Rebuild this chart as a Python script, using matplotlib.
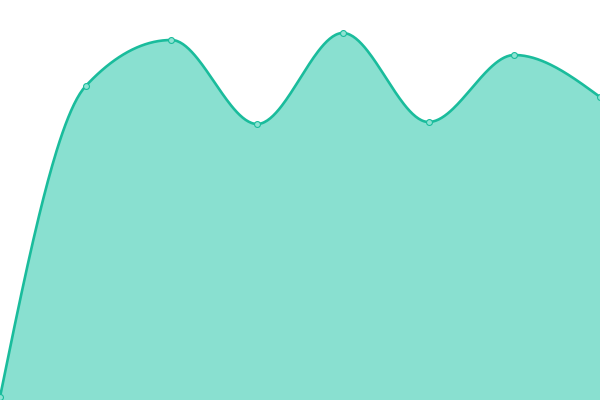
import numpy as np
import matplotlib
matplotlib.use("Agg")
import matplotlib.pyplot as plt

# values (0 = bottom edge, 400 = top edge)
categories = [0, 1, 2, 3, 4, 5, 6, 7]
values = [3, 314, 360, 276, 367, 278, 345, 303]

LINE = "#1abc9c"
FILL = "#89e0d0"


def monotone_slopes(x, y):
    # same tangents as d3.curveMonotoneX
    n = len(x)
    h = np.diff(x)
    s = np.diff(y) / h
    t = np.zeros(n)
    for i in range(1, n - 1):
        p = (s[i - 1] * h[i] + s[i] * h[i - 1]) / (h[i - 1] + h[i])
        t[i] = (np.sign(s[i - 1]) + np.sign(s[i])) * min(abs(s[i - 1]), abs(s[i]), 0.5 * abs(p))
    t[0] = (3 * s[0] - t[1]) / 2
    t[-1] = (3 * s[-1] - t[-2]) / 2
    return t


def smooth_curve(x, y, steps=60):
    x = np.asarray(x, float)
    y = np.asarray(y, float)
    t = monotone_slopes(x, y)
    xs, ys = [], []
    for i in range(len(x) - 1):
        dx = (x[i + 1] - x[i]) / 3
        p0 = np.array([x[i], y[i]])
        p1 = np.array([x[i] + dx, y[i] + dx * t[i]])
        p2 = np.array([x[i + 1] - dx, y[i + 1] - dx * t[i + 1]])
        p3 = np.array([x[i + 1], y[i + 1]])
        u = np.linspace(0, 1, steps)[:, None]
        pts = (1 - u) ** 3 * p0 + 3 * (1 - u) ** 2 * u * p1 + 3 * (1 - u) * u ** 2 * p2 + u ** 3 * p3
        xs.extend(pts[:, 0])
        ys.extend(pts[:, 1])
    return np.array(xs), np.array(ys)


fig = plt.figure(figsize=(6, 4), dpi=100)
ax = fig.add_axes([0, 0, 1, 1])

cx, cy = smooth_curve(categories, values)
ax.fill_between(cx, 0, cy, color=FILL, linewidth=0)
ax.plot(cx, cy, color=LINE, linewidth=1.9, solid_capstyle="round")
ax.scatter(categories, values, s=18, facecolor="#8fe3d3", edgecolor=LINE,
           linewidth=0.8, zorder=3, clip_on=True)

ax.set_xlim(0, 7)
ax.set_ylim(0, 400)
ax.axis("off")

fig.savefig("out.png", dpi=100)
